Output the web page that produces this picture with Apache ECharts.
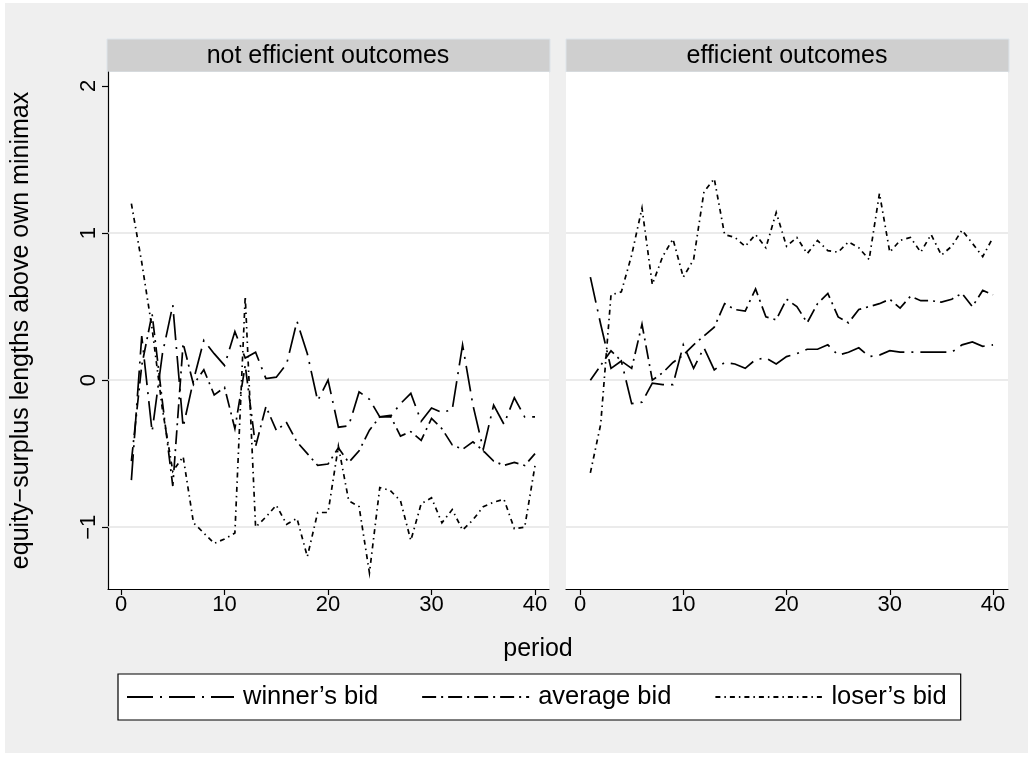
<!DOCTYPE html>
<html>
<head>
<meta charset="utf-8">
<script src="https://cdn.jsdelivr.net/npm/echarts@6/dist/echarts.min.js"></script>
<style>
html,body{margin:0;padding:0;background:#ffffff;}
#chart{width:1033px;height:757px;}
</style>
</head>
<body>
<div id="chart"></div>
<script>
// ---- data ----
const periods = [1,2,3,4,5,6,7,8,9,10,11,12,13,14,15,16,17,18,19,20,21,22,23,24,25,26,27,28,29,30,31,32,33,34,35,36,37,38,39,40];
const panelTitles = ["not efficient outcomes", "efficient outcomes"];
const seriesNames = ["winner\u2019s bid", "average bid", "loser\u2019s bid"];
const xTicks = [0, 10, 20, 30, 40];
const yTicks = [-1, 0, 1, 2];
const gridValues = [-1, 0, 1];

// not efficient outcomes
const winnerNE = [-0.68,0.30,-0.35,0.18,0.51,-0.32,0.00,0.27,0.18,0.10,0.33,0.15,0.19,0.01,0.02,0.11,0.40,0.18,-0.14,0.00,-0.32,-0.31,-0.08,-0.13,-0.25,-0.25,-0.16,-0.09,-0.28,-0.19,-0.22,-0.20,0.24,-0.17,-0.47,-0.17,-0.30,-0.12,-0.25,-0.25];
const averageNE = [-0.55,0.10,0.45,-0.15,-0.72,0.25,-0.03,0.07,-0.10,-0.05,-0.33,0.10,-0.45,-0.18,-0.34,-0.29,-0.42,-0.50,-0.58,-0.57,-0.46,-0.56,-0.48,-0.34,-0.25,-0.24,-0.38,-0.35,-0.41,-0.26,-0.33,-0.44,-0.47,-0.42,-0.48,-0.55,-0.58,-0.56,-0.58,-0.50];
const loserNE = [1.20,0.80,0.35,-0.20,-0.62,-0.52,-0.97,-1.04,-1.11,-1.08,-1.04,0.57,-1.00,-0.93,-0.85,-0.98,-0.94,-1.20,-0.90,-0.90,-0.45,-0.82,-0.86,-1.31,-0.73,-0.75,-0.82,-1.09,-0.84,-0.80,-0.97,-0.88,-1.02,-0.95,-0.86,-0.83,-0.81,-1.01,-1.00,-0.58];
// efficient outcomes
const winnerE = [0.70,0.38,0.08,0.13,-0.16,-0.15,-0.02,-0.03,-0.03,0.24,0.08,0.22,0.07,0.12,0.11,0.08,0.14,0.15,0.11,0.16,0.18,0.21,0.21,0.24,0.17,0.19,0.22,0.16,0.17,0.20,0.19,0.19,0.19,0.19,0.19,0.19,0.24,0.26,0.23,0.24];
const averageE = [0.00,0.10,0.20,0.13,0.08,0.38,0.00,0.05,0.12,0.17,0.24,0.30,0.36,0.52,0.48,0.47,0.62,0.43,0.41,0.55,0.50,0.39,0.52,0.59,0.43,0.39,0.48,0.50,0.52,0.55,0.49,0.57,0.54,0.54,0.53,0.55,0.59,0.50,0.61,0.58];
const loserE = [-0.63,-0.30,0.58,0.60,0.85,1.17,0.65,0.84,0.96,0.70,0.82,1.28,1.37,0.99,0.97,0.91,0.99,0.90,1.14,0.91,0.97,0.86,0.95,0.88,0.87,0.94,0.90,0.82,1.27,0.87,0.95,0.97,0.87,0.99,0.85,0.91,1.02,0.93,0.84,0.97];

// ---- styles ----
const FONT = "'Liberation Sans', Arial, sans-serif";
const TITLE_SIZE = 25, TICK_SIZE = 22, LEGEND_SIZE = 25.5;
const dashes = [[26, 7, 2, 7], [14, 5, 2, 5], [5, 4, 1.5, 4]];
const panels = [[winnerNE, averageNE, loserNE], [winnerE, averageE, loserE]];

const grids = [
  {left: 108, top: 72, width: 441, height: 517},
  {left: 566, top: 72, width: 442, height: 517}
];
const Y_MIN = -1.42, Y_MAX = 2.095;

const xAxes = grids.map((g, i) => ({
  type: 'value', gridIndex: i, min: i === 0 ? -1.26 : -1.36, max: i === 0 ? 41.35 : 41.45,
  axisLine: {show: true, onZero: false, lineStyle: {color: '#000', width: 1.2}},
  axisTick: {show: true, customValues: xTicks, length: 6, lineStyle: {color: '#000', width: 1.2}},
  axisLabel: {show: true, customValues: xTicks, color: '#000', fontSize: TICK_SIZE, fontFamily: FONT, margin: 5},
  splitLine: {show: false}
}));
const yAxes = grids.map((g, i) => ({
  type: 'value', gridIndex: i, min: Y_MIN, max: Y_MAX,
  name: i === 0 ? 'equity\u2212surplus lengths above own minimax' : '',
  nameLocation: 'middle', nameGap: 74,
  nameTextStyle: {color: '#000', fontSize: TITLE_SIZE, fontFamily: FONT},
  axisLine: {show: i === 0, onZero: false, lineStyle: {color: '#000', width: 1.2}},
  axisTick: {show: i === 0, customValues: yTicks, length: 6, lineStyle: {color: '#000', width: 1.2}},
  axisLabel: {show: i === 0, customValues: yTicks, rotate: 90, color: '#000', fontSize: TICK_SIZE, fontFamily: FONT, margin: 8,
    formatter: v => String(v).replace('-', '\u2212')},
  splitLine: {show: false}
}));

const series = [];
panels.forEach((vals, gi) => {
  series.push({
    type: 'line', name: '_grid' + gi, xAxisIndex: gi, yAxisIndex: gi, data: [], z: 1, silent: true,
    markLine: {silent: true, symbol: 'none', z: 1, animation: false,
      label: {show: false}, lineStyle: {color: '#e4e4e4', width: 1.6, type: 'solid'},
      data: gridValues.map(v => ({yAxis: v}))}
  });
  vals.forEach((arr, si) => {
    series.push({
      type: 'line', name: seriesNames[si], xAxisIndex: gi, yAxisIndex: gi,
      data: periods.map((p, k) => [p, arr[k]]),
      symbol: 'none', showSymbol: false, z: 3, animation: false,
      lineStyle: {color: '#000', width: 1.7, type: dashes[si], cap: 'butt', join: 'miter'},
      itemStyle: {color: '#000'}
    });
  });
});

const chart = echarts.init(document.getElementById('chart'), null, {renderer: 'canvas'});
chart.setOption({
  animation: false,
  backgroundColor: '#ffffff',
  grid: grids.map(g => Object.assign({containLabel: false, show: true, backgroundColor: '#ffffff', borderWidth: 0}, g)),
  xAxis: xAxes,
  yAxis: yAxes,
  legend: {
    show: true,
    orient: 'horizontal',
    data: seriesNames,
    left: 118, top: 674,
    itemWidth: 107, itemHeight: 14, itemGap: 43,
    padding: [10, 14, 10, 8],
    borderColor: '#000', borderWidth: 1.2, backgroundColor: '#ffffff',
    itemStyle: {color: 'rgba(0,0,0,0)', borderWidth: 0, opacity: 0},
    textStyle: {color: '#000', fontSize: LEGEND_SIZE, fontFamily: FONT, padding: [0, 0, 0, 4]},
    selectedMode: false
  },
  graphic: [
    {type: 'rect', z: -10, silent: true, shape: {x: 5, y: 3, width: 1023, height: 750}, style: {fill: '#efefef'}},
    {type: 'rect', z: -5, silent: true, shape: {x: 107, y: 39, width: 443, height: 33}, style: {fill: '#cfcfcf', stroke: '#dde4ea', lineWidth: 1}},
    {type: 'rect', z: -5, silent: true, shape: {x: 566, y: 39, width: 443, height: 33}, style: {fill: '#cfcfcf', stroke: '#dde4ea', lineWidth: 1}},
    {type: 'text', silent: true, style: {text: panelTitles[0], x: 328, y: 56, textAlign: 'center', textVerticalAlign: 'middle', fill: '#000', fontSize: TITLE_SIZE, fontFamily: FONT}},
    {type: 'text', silent: true, style: {text: panelTitles[1], x: 787, y: 56, textAlign: 'center', textVerticalAlign: 'middle', fill: '#000', fontSize: TITLE_SIZE, fontFamily: FONT}},
    {type: 'text', silent: true, style: {text: 'period', x: 538, y: 649, textAlign: 'center', textVerticalAlign: 'middle', fill: '#000', fontSize: TITLE_SIZE, fontFamily: FONT}}
  ],
  series: series
});
</script>
</body>
</html>
